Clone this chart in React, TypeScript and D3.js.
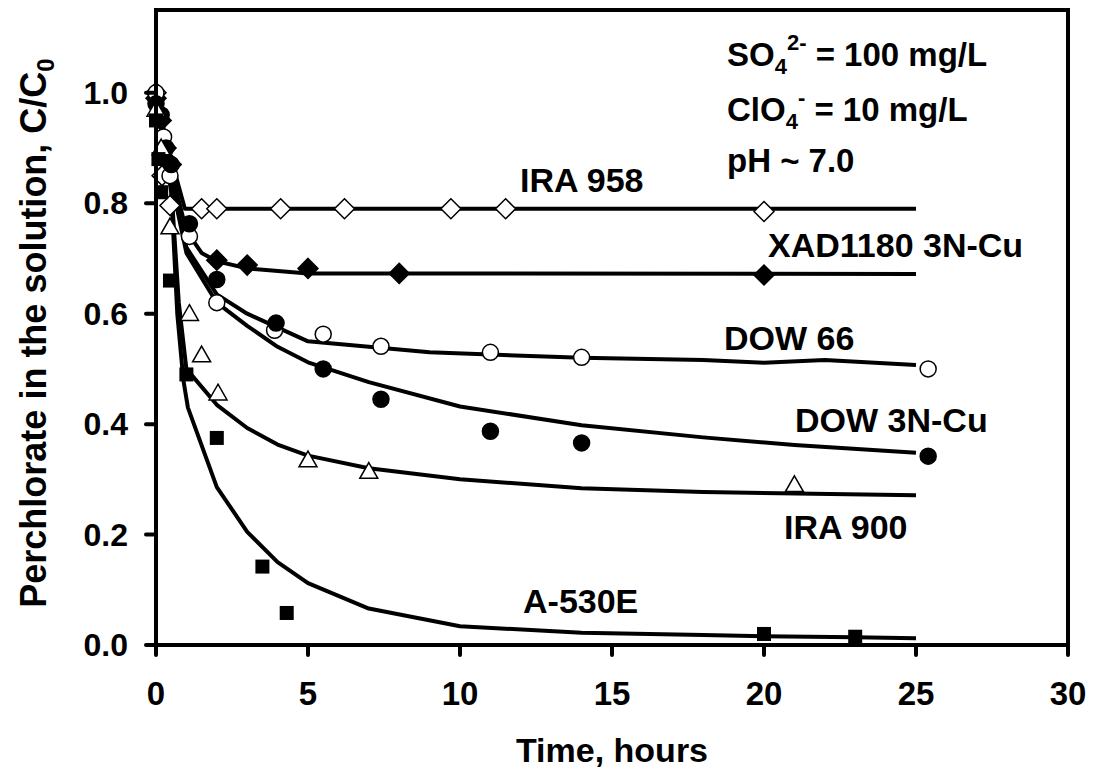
import React from "react";
import * as d3 from "d3";

// axis ticks
const xTicks = [0, 5, 10, 15, 20, 25, 30];
const yTicks = [0, 0.2, 0.4, 0.6, 0.8, 1.0];

// measured points [time h, C/C0]
const ira958Pts: [number, number][] = [
  [0, 1.0], [0.2, 0.85], [0.46, 0.796], [1.5, 0.79], [2, 0.79], [4.1, 0.79],
  [6.2, 0.79], [9.7, 0.79], [11.5, 0.79], [20, 0.785],
];
const xad1180Pts: [number, number][] = [
  [0, 0.99], [0.17, 0.95], [0.33, 0.9], [0.5, 0.87], [2, 0.697], [3, 0.688],
  [5, 0.682], [8, 0.673], [20, 0.67],
];
const dow66Pts: [number, number][] = [
  [0, 1.0], [0.08, 0.96], [0.25, 0.92], [0.46, 0.85], [1.1, 0.74], [2, 0.62],
  [3.9, 0.57], [5.5, 0.563], [7.4, 0.541], [11, 0.53], [14, 0.521], [25.4, 0.5],
];
const dow3nPts: [number, number][] = [
  [0, 0.98], [0.17, 0.96], [0.33, 0.9], [0.5, 0.87], [1.1, 0.763], [2, 0.662],
  [3.95, 0.583], [5.5, 0.5], [7.4, 0.445], [11, 0.387], [14, 0.366], [25.4, 0.342],
];
const ira900Pts: [number, number][] = [
  [0, 0.97], [0.17, 0.9], [0.46, 0.757], [1.1, 0.6], [1.5, 0.525], [2.04, 0.456],
  [5, 0.335], [7, 0.314], [21, 0.29],
];
const a530ePts: [number, number][] = [
  [0, 0.95], [0.08, 0.88], [0.17, 0.82], [0.46, 0.66], [1, 0.49], [2, 0.375],
  [3.5, 0.142], [4.3, 0.058], [20, 0.02], [23, 0.015],
];

// model curves
const ira958Fit: [number, number][] = [
  [0, 1.0], [0.35, 0.91], [0.95, 0.79], [25, 0.79],
];
const xad1180Fit: [number, number][] = [
  [0, 1.0], [0.5, 0.86], [1, 0.75], [1.5, 0.71], [2, 0.695], [3, 0.682], [5, 0.673], [25, 0.672],
];
const dow66Fit: [number, number][] = [
  [0, 1.0], [0.5, 0.84], [1, 0.72], [2, 0.635], [3, 0.6], [5, 0.55], [9, 0.53],
  [14, 0.52], [18, 0.516], [20, 0.511], [22, 0.516], [25, 0.507],
];
const dow3nFit: [number, number][] = [
  [0, 1.0], [0.5, 0.84], [1, 0.71], [2, 0.62], [3, 0.578], [4, 0.54], [5, 0.512],
  [7, 0.476], [10, 0.432], [14, 0.398], [18, 0.376], [21, 0.362], [25, 0.348],
];
const ira900Fit: [number, number][] = [
  [0, 1.0], [0.5, 0.83], [0.75, 0.62], [1, 0.5], [2, 0.435], [3, 0.393], [4, 0.363],
  [5, 0.343], [7, 0.32], [10, 0.3], [14, 0.284], [18, 0.277], [25, 0.271],
];
const a530eFit: [number, number][] = [
  [0, 1.0], [0.5, 0.82], [0.7, 0.6], [0.9, 0.48], [1.05, 0.43], [2, 0.286], [3, 0.205],
  [4, 0.15], [5, 0.112], [7, 0.066], [10, 0.034], [14, 0.022], [18, 0.018], [20, 0.016],
  [23, 0.014], [25, 0.012],
];

const FONT = "'Liberation Sans', Arial, sans-serif";

type Marker = "diamondOpen" | "diamondFilled" | "circleOpen" | "circleFilled" | "triangleOpen" | "squareFilled";

function MarkerShape({ type, cx, cy }: { type: Marker; cx: number; cy: number }) {
  switch (type) {
    case "diamondOpen":
    case "diamondFilled": {
      const r = 10;
      return (
        <path
          d={`M${cx},${cy - r}L${cx + r},${cy}L${cx},${cy + r}L${cx - r},${cy}Z`}
          fill={type === "diamondOpen" ? "#fff" : "#000"}
          stroke="#000"
          strokeWidth={1.5}
        />
      );
    }
    case "circleOpen":
    case "circleFilled":
      return (
        <circle cx={cx} cy={cy} r={8} fill={type === "circleOpen" ? "#fff" : "#000"} stroke="#000" strokeWidth={1.5} />
      );
    case "triangleOpen": {
      const s = 9;
      return (
        <path
          d={`M${cx},${cy - s}L${cx + s},${cy + s * 0.75}L${cx - s},${cy + s * 0.75}Z`}
          fill="#fff"
          stroke="#000"
          strokeWidth={1.5}
        />
      );
    }
    default:
      return <rect x={cx - 7} y={cy - 7} width={14} height={14} fill="#000" />;
  }
}

export default function App() {
  const width = 1096;
  const height = 776;
  const left = 156, right = 1068, top = 10, bottom = 645;

  const x = d3.scaleLinear().domain([0, 30]).range([left, right]);
  const y = d3.scaleLinear().domain([0, 1.15]).range([bottom, top]);

  const line = d3.line<[number, number]>()
    .x((d) => x(d[0]))
    .y((d) => y(d[1]));

  const series: { pts: [number, number][]; fit: [number, number][]; marker: Marker }[] = [
    { pts: ira958Pts, fit: ira958Fit, marker: "diamondOpen" },
    { pts: xad1180Pts, fit: xad1180Fit, marker: "diamondFilled" },
    { pts: dow66Pts, fit: dow66Fit, marker: "circleOpen" },
    { pts: dow3nPts, fit: dow3nFit, marker: "circleFilled" },
    { pts: ira900Pts, fit: ira900Fit, marker: "triangleOpen" },
    { pts: a530ePts, fit: a530eFit, marker: "squareFilled" },
  ];

  const labels = [
    { text: "IRA 958", x: 520, y: 192 },
    { text: "XAD1180 3N-Cu", x: 768, y: 257 },
    { text: "DOW 66", x: 724, y: 350 },
    { text: "DOW 3N-Cu", x: 795, y: 432 },
    { text: "IRA 900", x: 784, y: 539 },
    { text: "A-530E", x: 523, y: 613 },
  ];

  return (
    <div style={{ position: "absolute", left: 0, top: 0 }}>
      <svg width={width} height={height} style={{ display: "block", background: "#fff" }}>
        <g fontFamily={FONT} fontWeight="bold" fill="#000">
          {/* fitted lines */}
          {series.map((s, i) => (
            <path key={"f" + i} d={line(s.fit) || ""} fill="none" stroke="#000" strokeWidth={4} strokeLinejoin="round" />
          ))}
          {/* data markers */}
          {series.map((s, i) => (
            <g key={"m" + i}>
              {s.pts.map((p, j) => (
                <MarkerShape key={j} type={s.marker} cx={x(p[0])} cy={y(p[1])} />
              ))}
            </g>
          ))}

          {/* frame */}
          <rect x={left} y={top} width={right - left} height={bottom - top} fill="none" stroke="#000" strokeWidth={4} />

          {/* y axis ticks */}
          {yTicks.map((t) => (
            <g key={"y" + t}>
              <line x1={left - 10} x2={left} y1={y(t)} y2={y(t)} stroke="#000" strokeWidth={4} strokeLinecap="round" />
              <text x={128} y={y(t) + 11} textAnchor="end" fontSize={32}>
                {t.toFixed(1)}
              </text>
            </g>
          ))}
          {/* x axis ticks */}
          {xTicks.map((t) => (
            <g key={"x" + t}>
              <line x1={x(t)} x2={x(t)} y1={bottom} y2={bottom + 10} stroke="#000" strokeWidth={4} strokeLinecap="round" />
              <text x={x(t)} y={705} textAnchor="middle" fontSize={33}>
                {t}
              </text>
            </g>
          ))}

          {/* axis titles */}
          <text x={612} y={762} textAnchor="middle" fontSize={34}>Time, hours</text>
          <text transform="translate(46,333) rotate(-90)" textAnchor="middle" fontSize={36}>
            Perchlorate in the solution, C/C
            <tspan fontSize={24} dy={8}>0</tspan>
          </text>

          {/* series labels */}
          {labels.map((l) => (
            <text key={l.text} x={l.x} y={l.y} fontSize={34}>{l.text}</text>
          ))}

          {/* conditions */}
          <text x={727} y={66} fontSize={33}>
            SO<tspan fontSize={22} dy={8}>4</tspan>
            <tspan fontSize={22} dy={-24}>2-</tspan>
            <tspan dy={16}> = 100 mg/L</tspan>
          </text>
          <text x={727} y={121} fontSize={33}>
            ClO<tspan fontSize={22} dy={8}>4</tspan>
            <tspan fontSize={22} dy={-24}>-</tspan>
            <tspan dy={16}> = 10 mg/L</tspan>
          </text>
          <text x={727} y={172} fontSize={33}>pH ~ 7.0</text>
        </g>
      </svg>
    </div>
  );
}
